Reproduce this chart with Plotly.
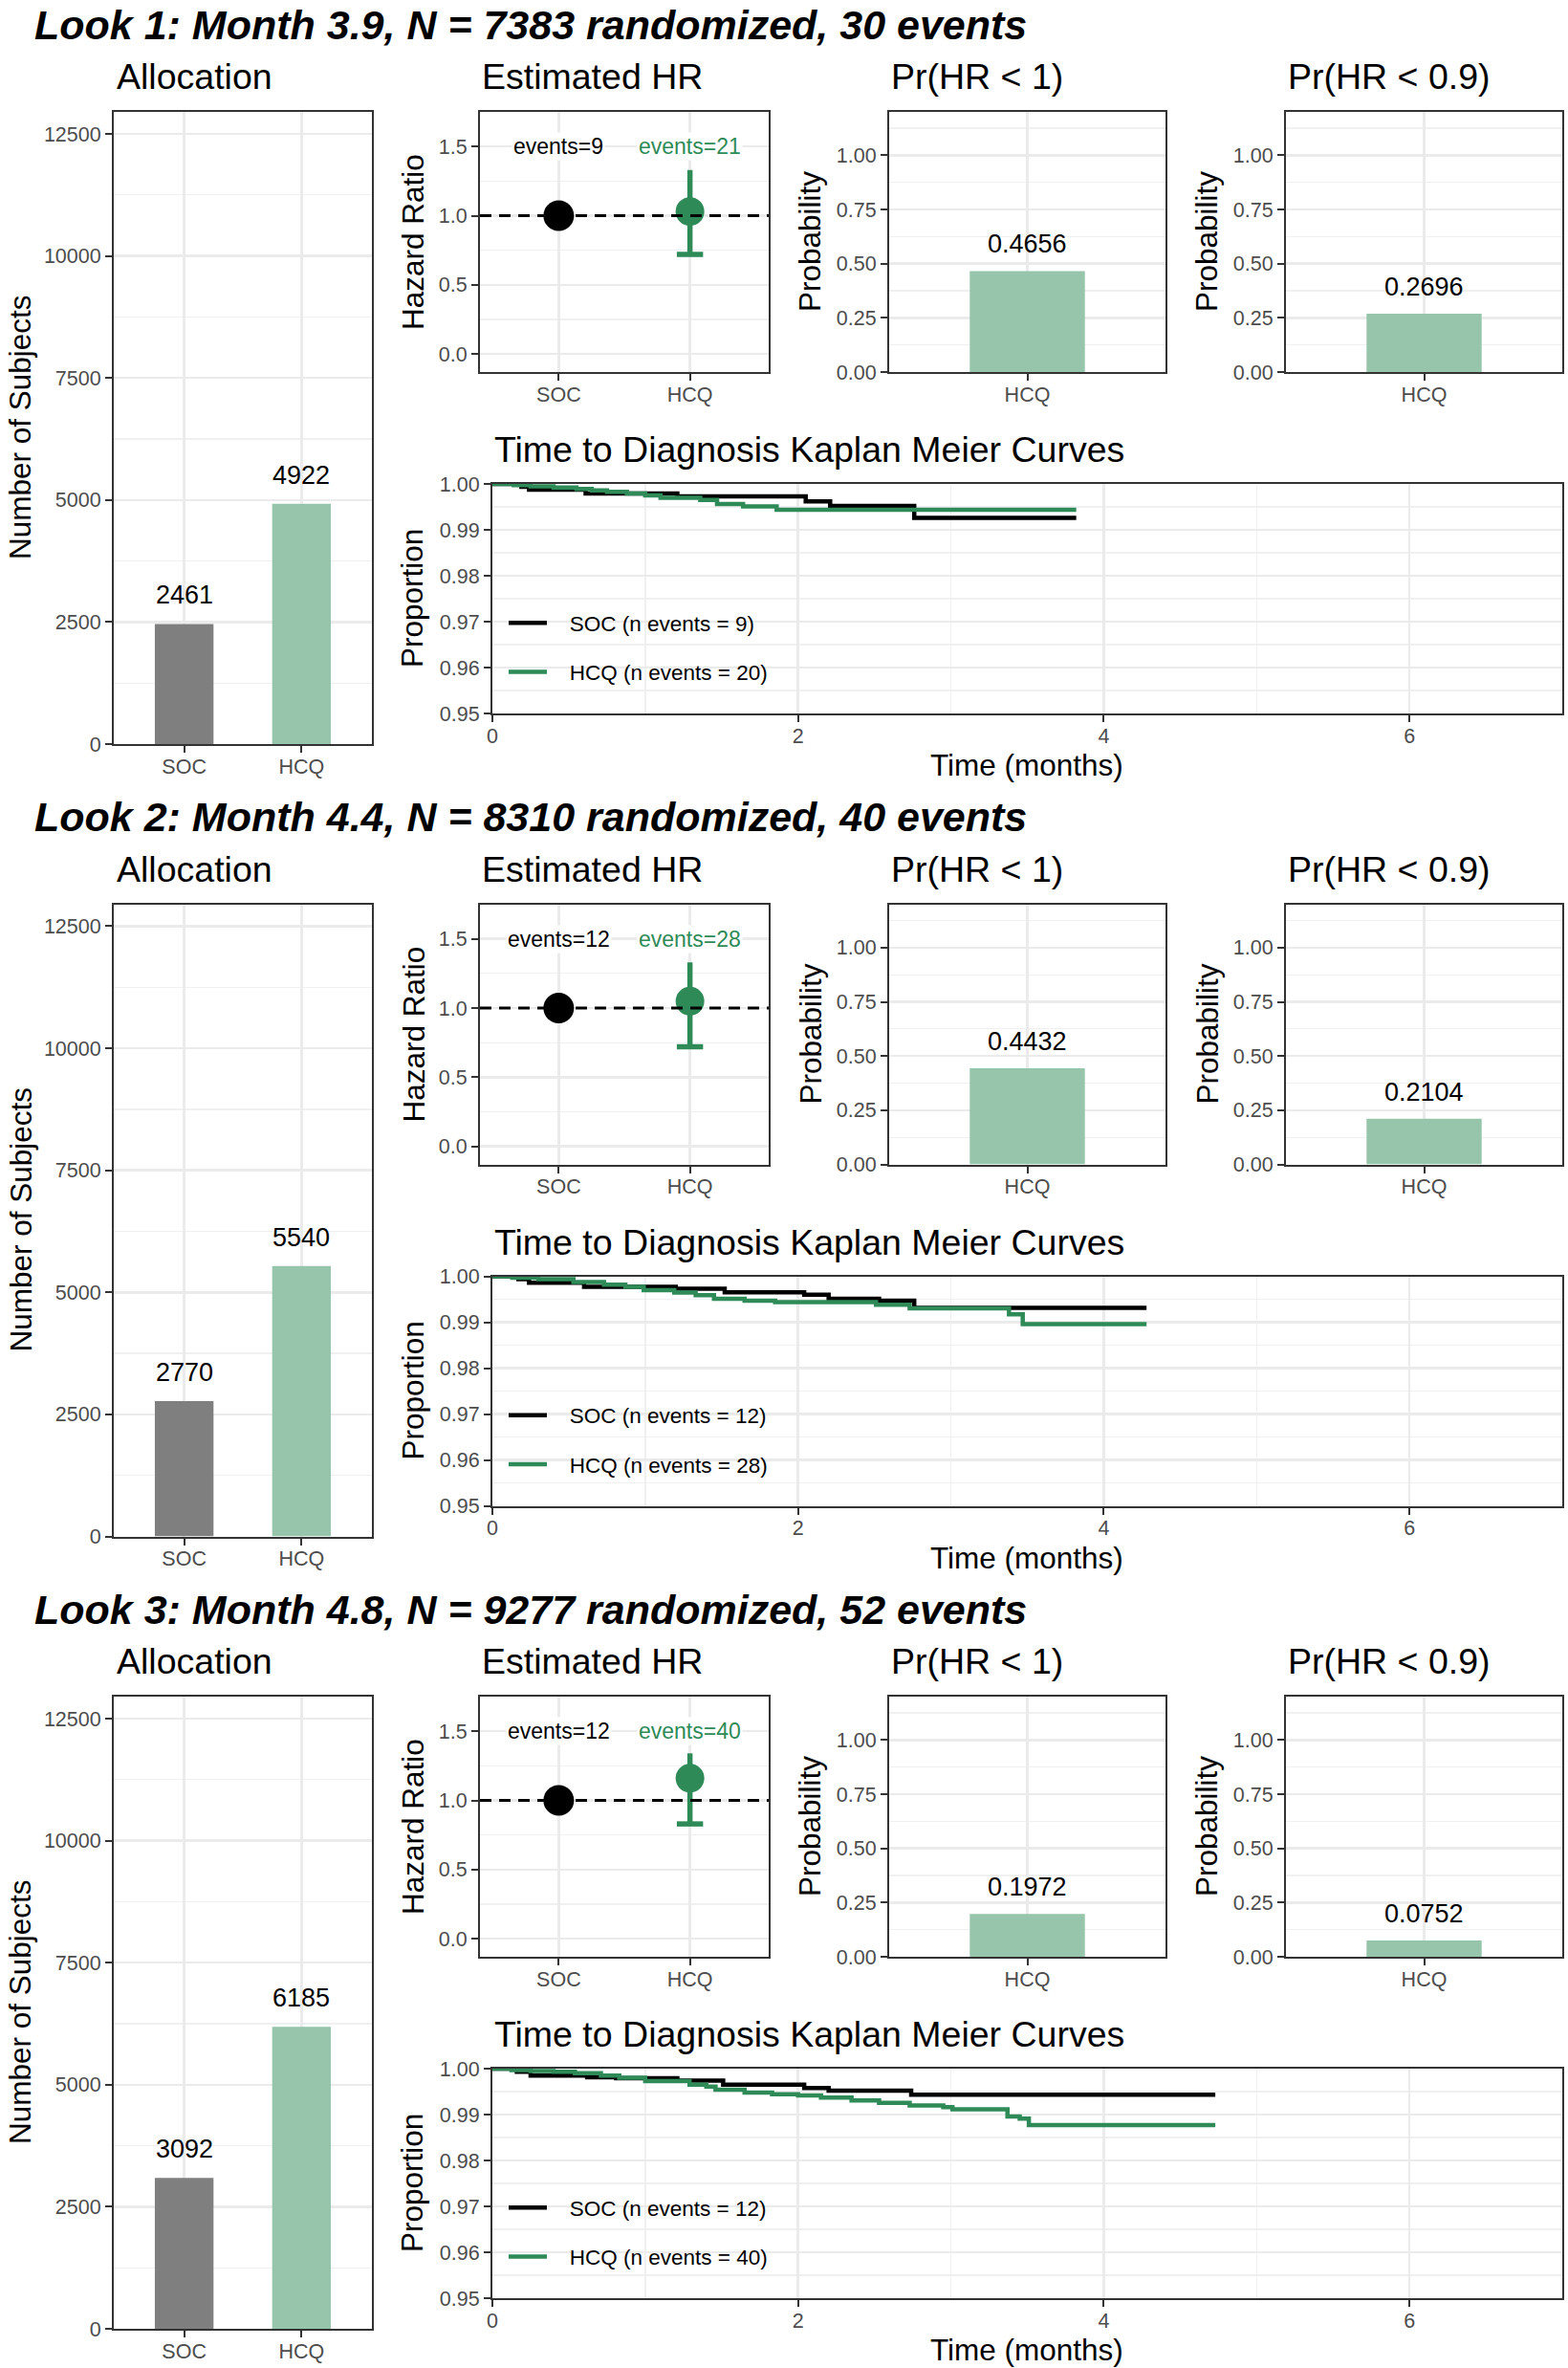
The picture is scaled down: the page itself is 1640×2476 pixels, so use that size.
import plotly.graph_objects as go

# ---------------- data ----------------
look_titles = [
    "Look 1: Month 3.9, N = 7383 randomized, 30 events",
    "Look 2: Month 4.4, N = 8310 randomized, 40 events",
    "Look 3: Month 4.8, N = 9277 randomized, 52 events",
]
arms = ["SOC", "HCQ"]
alloc_soc = [2461, 2770, 3092]
alloc_hcq = [4922, 5540, 6185]

hr_soc = [1.0, 1.0, 1.0]
hr_hcq = [1.03, 1.05, 1.16]
hr_hcq_lo = [0.72, 0.72, 0.83]
hr_hcq_hi = [1.33, 1.33, 1.34]
hr_events_soc = [9, 12, 12]
hr_events_hcq = [21, 28, 40]

pr_hr_lt_1 = [0.4656, 0.4432, 0.1972]
pr_hr_lt_09 = [0.2696, 0.2104, 0.0752]

km_events_soc = [9, 12, 12]
km_events_hcq = [20, 28, 40]
km_end = [3.82, 4.28, 4.73]

km_soc_time_1 = [0, 0.19, 0.24, 0.61, 1.21, 2.05, 2.21, 2.76]
km_soc_surv_1 = [1.0, 0.9994, 0.99875, 0.9979, 0.9973, 0.9962, 0.9952, 0.9926]
km_hcq_time_1 = [0, 0.14, 0.25, 0.40, 0.55, 0.65, 0.75, 0.88, 1.00, 1.10, 1.36, 1.47, 1.64, 1.86]
km_hcq_surv_1 = [1.0, 0.99975, 0.9995, 0.9992, 0.9989, 0.9986, 0.9983, 0.9979, 0.9975, 0.9970, 0.9965, 0.9956, 0.9951, 0.9944]

km_soc_time_2 = [0, 0.17, 0.24, 0.60, 1.20, 1.52, 2.04, 2.20, 2.53, 2.76]
km_soc_surv_2 = [1.0, 0.9994, 0.9986, 0.9977, 0.9973, 0.9965, 0.9960, 0.9951, 0.9947, 0.9931]
km_hcq_time_2 = [0, 0.13, 0.30, 0.53, 0.73, 0.87, 0.99, 1.19, 1.33, 1.45, 1.65, 1.85, 2.51, 2.73, 3.38, 3.47]
km_hcq_surv_2 = [1.0, 0.9997, 0.9994, 0.99875, 0.9982, 0.9977, 0.9970, 0.99645, 0.9959, 0.9951, 0.9947, 0.9944, 0.9938, 0.9930, 0.9917, 0.9896]

km_soc_time_3 = [0, 0.16, 0.25, 0.62, 0.81, 1.21, 1.51, 2.04, 2.20, 2.74]
km_soc_surv_3 = [1.0, 0.9993, 0.9985, 0.9981, 0.9979, 0.9974, 0.9965, 0.9958, 0.9952, 0.9943]
km_hcq_time_3 = [0, 0.125, 0.25, 0.40, 0.54, 0.71, 0.83, 1.00, 1.29, 1.40, 1.46, 1.65, 1.83, 2.00, 2.15,
                 2.35, 2.53, 2.73, 2.95, 3.01, 3.37, 3.45, 3.51]
km_hcq_surv_3 = [1.0, 0.9997, 0.9995, 0.9993, 0.9990, 0.9985, 0.9980, 0.9973, 0.99652, 0.9961, 0.9954,
                 0.99478, 0.99445, 0.99416, 0.9937, 0.99305, 0.99256, 0.9920, 0.9916, 0.99117, 0.98957,
                 0.9891, 0.98769]

km_soc_time = [km_soc_time_1, km_soc_time_2, km_soc_time_3]
km_soc_surv = [km_soc_surv_1, km_soc_surv_2, km_soc_surv_3]
km_hcq_time = [km_hcq_time_1, km_hcq_time_2, km_hcq_time_3]
km_hcq_surv = [km_hcq_surv_1, km_hcq_surv_2, km_hcq_surv_3]

# ---------------- style ----------------
W, H = 1640, 2476
D = 828.5
FONT = "Liberation Sans, Arial, Helvetica, sans-serif"
GREEN = "#2E8B57"
GREEN_LIGHT = "#96C5AB"
GRAY = "#7F7F7F"
TICK_COLOR = "#4D4D4D"
BORDER = "#333333"
GRID = "#EBEBEB"
NB = "\u00a0"

def fx(px):
    return px / W

def fy(py):
    return 1 - py / H

def axis_style(**kw):
    d = dict(showline=True, mirror=True, linecolor=BORDER, linewidth=2,
             ticks="outside", ticklen=7, tickwidth=2, tickcolor=BORDER,
             tickfont=dict(family=FONT, size=21.5, color=TICK_COLOR),
             showgrid=True, gridcolor=GRID, gridwidth=2.5, zeroline=False,
             fixedrange=True, automargin=False, layer="above traces")
    d.update(kw)
    return d

def minor(**kw):
    d = dict(showgrid=True, gridcolor="#F0F0F0", gridwidth=1.3, ticks="")
    d.update(kw)
    return d

fig = go.Figure()
layout = {}
annotations = []
shapes = []

def ann(text, x, y, size, color="black", xanchor="center", angle=0, yanchor="middle", **kw):
    annotations.append(dict(text=text, x=fx(x), y=fy(y),
                            xref="paper", yref="paper",
                            xanchor=xanchor, yanchor=yanchor, showarrow=False,
                            textangle=angle, font=dict(family=FONT, size=size, color=color), **kw))

boxes = {
    "alloc": (119, 389, 117, 778),
    "hr": (502, 804, 117, 389),
    "pr1": (930, 1219, 117, 389),
    "pr2": (1345, 1634, 117, 389),
    "km": (515, 1634, 506, 746),
}
names = ["alloc", "hr", "pr1", "pr2", "km"]

def an(i):
    return "" if i == 1 else str(i)

for k in range(3):
    off = k * D
    ids = [5 * k + i for i in range(1, 6)]
    ax = {}
    for nm, i in zip(names, ids):
        x0, x1, y0, y1 = boxes[nm]
        ax[nm] = i
        layout["xaxis" + an(i)] = dict(domain=[fx(x0), fx(x1)], anchor="y" + an(i))
        layout["yaxis" + an(i)] = dict(domain=[fy(y1 + off), fy(y0 + off)], anchor="x" + an(i))

    xstyle = dict(ticklabelstandoff=-4)

    # --- Allocation
    i = ax["alloc"]
    fig.add_trace(go.Bar(x=arms, y=[alloc_soc[k], alloc_hcq[k]], width=0.5,
                         marker=dict(color=[GRAY, GREEN_LIGHT], line_width=0),
                         xaxis="x" + an(i), yaxis="y" + an(i), showlegend=False))
    layout["xaxis" + an(i)].update(axis_style(type="category", range=[-0.6, 1.6], **xstyle))
    layout["yaxis" + an(i)].update(axis_style(range=[0, 12950], tick0=0, dtick=2500, tickformat="d",
                                              minor=minor(tick0=0, dtick=1250)))
    for arm, v in zip(arms, [alloc_soc[k], alloc_hcq[k]]):
        annotations.append(dict(text=str(v), x=arm, y=v, xref="x" + an(i), yref="y" + an(i),
                                yanchor="middle", yshift=30, showarrow=False,
                                font=dict(family=FONT, size=27, color="black")))

    # --- Estimated HR
    i = ax["hr"]
    xpos = [1, 2]
    fig.add_trace(go.Scatter(x=[xpos[1], xpos[1]], y=[hr_hcq_lo[k], hr_hcq_hi[k]], mode="lines",
                             line=dict(color=GREEN, width=5.5), xaxis="x" + an(i), yaxis="y" + an(i),
                             showlegend=False, opacity=1))
    fig.add_trace(go.Scatter(x=[xpos[1] - 0.1, xpos[1] + 0.1], y=[hr_hcq_lo[k], hr_hcq_lo[k]], mode="lines",
                             line=dict(color=GREEN, width=5.5), xaxis="x" + an(i), yaxis="y" + an(i),
                             showlegend=False, opacity=1))
    fig.add_trace(go.Scatter(x=xpos, y=[hr_soc[k], hr_hcq[k]], mode="markers", opacity=1,
                             marker=dict(color=["#000000", GREEN], size=[32, 30], opacity=1,
                                         line=dict(width=0)),
                             xaxis="x" + an(i), yaxis="y" + an(i), showlegend=False))
    layout["xaxis" + an(i)].update(axis_style(range=[0.4, 2.6], tickvals=xpos, ticktext=arms, **xstyle))
    layout["yaxis" + an(i)].update(axis_style(range=[-0.13, 1.75], tickvals=[0, 0.5, 1.0, 1.5],
                                              tickformat=".1f",
                                              minor=minor(tickvals=[0.25, 0.75, 1.25, 1.75])))
    shapes.append(dict(type="line", xref="x" + an(i) + " domain", yref="y" + an(i),
                       x0=0, x1=1, y0=1, y1=1, layer="above",
                       line=dict(color="black", width=3, dash="12px,8px")))
    for xp, txt, col in zip(xpos, [f"events={hr_events_soc[k]}", f"events={hr_events_hcq[k]}"],
                            ["black", GREEN]):
        annotations.append(dict(text=txt, x=xp, y=1.5, xref="x" + an(i), yref="y" + an(i),
                                yanchor="middle", showarrow=False, bgcolor="white", borderpad=1,
                                font=dict(family=FONT, size=23, color=col)))

    # --- Probability panels
    for nm, vals in (("pr1", pr_hr_lt_1), ("pr2", pr_hr_lt_09)):
        i = ax[nm]
        fig.add_trace(go.Bar(x=["HCQ"], y=[vals[k]], width=0.5,
                             marker=dict(color=GREEN_LIGHT, line_width=0),
                             xaxis="x" + an(i), yaxis="y" + an(i), showlegend=False))
        layout["xaxis" + an(i)].update(axis_style(type="category", range=[-0.6, 0.6], **xstyle))
        layout["yaxis" + an(i)].update(axis_style(range=[0, 1.2], tickvals=[0, 0.25, 0.5, 0.75, 1.0],
                                                  tickformat=".2f",
                                                  minor=minor(tickvals=[0.125, 0.375, 0.625, 0.875, 1.125])))
        annotations.append(dict(text=f"{vals[k]:.4f}", x="HCQ", y=vals[k], xref="x" + an(i),
                                yref="y" + an(i), yanchor="middle", yshift=28, showarrow=False,
                                font=dict(family=FONT, size=27, color="black")))

    # --- KM curves
    i = ax["km"]
    leg = "legend" if k == 0 else f"legend{k + 1}"
    for arm, tt, ss, ev, col in (("SOC", km_soc_time[k], km_soc_surv[k], km_events_soc[k], "black"),
                                 ("HCQ", km_hcq_time[k], km_hcq_surv[k], km_events_hcq[k], GREEN)):
        fig.add_trace(go.Scatter(x=tt + [km_end[k]], y=ss + [ss[-1]], mode="lines",
                                 line=dict(color=col, width=4.5, shape="hv"),
                                 name=NB * 3 + f"{arm} (n events = {ev})", legend=leg,
                                 legendgroup=f"{arm}{k}",
                                 xaxis="x" + an(i), yaxis="y" + an(i)))
    layout["xaxis" + an(i)].update(axis_style(range=[0, 7], tick0=0, dtick=2,
                                              minor=minor(tick0=0, dtick=1), **xstyle))
    layout["yaxis" + an(i)].update(axis_style(range=[0.95, 1.0], tick0=0.95, dtick=0.01, tickformat=".2f",
                                              minor=minor(tick0=0.95, dtick=0.005)))
    layout[leg] = dict(x=fx(527), y=fy(630 + off), xanchor="left", yanchor="top",
                       bgcolor="rgba(0,0,0,0)", font=dict(family=FONT, size=22.5, color="black"),
                       tracegroupgap=19, itemwidth=40, traceorder="grouped")

    # --- Titles
    ann(f"<b><i>{look_titles[k]}</i></b>", 34, off, 43, xanchor="left", yanchor="top")
    ann("Allocation", 120, 80 + off, 37.5, xanchor="left")
    ann("Estimated HR", 502, 80 + off, 37.5, xanchor="left")
    ann("Pr(HR &lt; 1)", 930, 80 + off, 37.5, xanchor="left")
    ann("Pr(HR &lt; 0.9)", 1345, 80 + off, 37.5, xanchor="left")
    ann("Time to Diagnosis Kaplan Meier Curves", 515, 470 + off, 37.5, xanchor="left")
    # axis titles
    ann("Number of Subjects", 1, 447 + off, 31.5, angle=-90, xanchor="left")
    ann("Hazard Ratio", 432, 253 + off, 31.5, angle=-90)
    ann("Probability", 847, 253 + off, 31.5, angle=-90)
    ann("Probability", 1262, 253 + off, 31.5, angle=-90)
    ann("Proportion", 431, 626 + off, 31.5, angle=-90)
    ann("Time (months)", 1074, 800 + off, 31.5)

fig.update_layout(**layout)
fig.update_layout(width=W, height=H, margin=dict(l=0, r=0, t=0, b=0, autoexpand=False),
                  paper_bgcolor="white", plot_bgcolor="white",
                  annotations=annotations, shapes=shapes,
                  font=dict(family=FONT), hovermode=False)
fig.write_html("out.html", config={"displayModeBar": False, "staticPlot": True},
               post_script="document.body.style.margin='0px';")
